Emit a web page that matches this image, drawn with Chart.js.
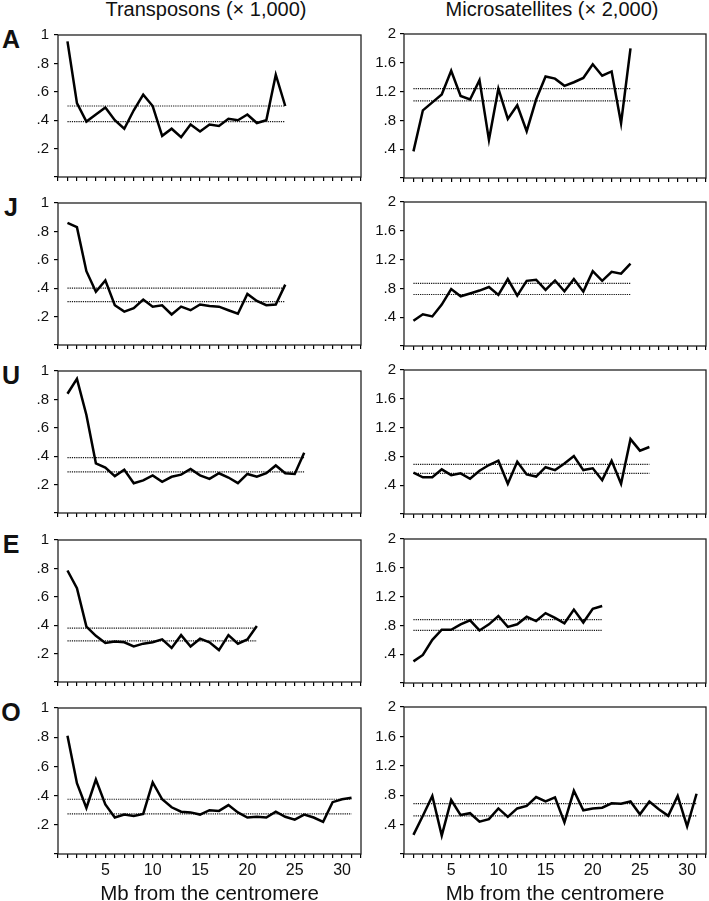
<!DOCTYPE html>
<html>
<head>
<meta charset="utf-8">
<script src="https://cdn.jsdelivr.net/npm/chart.js@4.4.0/dist/chart.umd.min.js"></script>
<style>
  body { margin: 0; background: #fff; width: 709px; height: 901px; overflow: hidden; position: relative;
         font-family: "Liberation Sans", Arial, sans-serif; color: #111; }
  .head { position: absolute; top: -2px; width: 300px; text-align: center; font-size: 20px; line-height: 22px; }
  .tag { position: absolute; left: 0; width: 22px; text-align: center; font-size: 25px; font-weight: bold; line-height: 26px; }
  .wrap { position: absolute; }
</style>
</head>
<body>
<div class="head" style="left:56px">Transposons (× 1,000)</div>
<div class="head" style="left:402px">Microsatellites (× 2,000)</div>

<script>
// chromosome panels, top to bottom
const chromosomes = ['A', 'J', 'U', 'E', 'O'];

// transposons per Mb (x 1,000), one value per Mb from the centromere
const transA = [0.955,0.52,0.39,0.44,0.49,0.40,0.34,0.47,0.58,0.50,0.29,0.34,0.28,0.37,0.32,0.37,0.36,0.41,0.40,0.44,0.38,0.40,0.72,0.50];
const transJ = [0.86,0.83,0.52,0.375,0.455,0.28,0.235,0.26,0.32,0.27,0.28,0.215,0.27,0.245,0.285,0.275,0.27,0.245,0.22,0.36,0.31,0.28,0.285,0.425];
const transU = [0.84,0.945,0.69,0.35,0.32,0.26,0.305,0.21,0.23,0.265,0.22,0.255,0.27,0.31,0.265,0.24,0.28,0.25,0.21,0.275,0.255,0.28,0.335,0.28,0.275,0.425];
const transE = [0.785,0.66,0.39,0.325,0.275,0.285,0.28,0.25,0.27,0.28,0.30,0.24,0.33,0.25,0.305,0.28,0.225,0.33,0.27,0.30,0.395];
const transO = [0.81,0.485,0.315,0.51,0.34,0.25,0.27,0.26,0.275,0.49,0.375,0.32,0.29,0.285,0.27,0.30,0.295,0.335,0.285,0.25,0.255,0.25,0.29,0.255,0.235,0.27,0.25,0.22,0.355,0.375,0.385];

// microsatellites per Mb (x 2,000)
const microA = [0.37,0.94,1.05,1.16,1.49,1.14,1.09,1.36,0.53,1.24,0.82,1.01,0.65,1.09,1.41,1.38,1.28,1.33,1.39,1.58,1.42,1.48,0.76,1.80];
const microJ = [0.35,0.44,0.41,0.575,0.79,0.69,0.73,0.77,0.82,0.71,0.93,0.70,0.905,0.92,0.78,0.91,0.76,0.93,0.755,1.04,0.905,1.03,1.005,1.145];
const microU = [0.575,0.51,0.51,0.62,0.54,0.565,0.49,0.60,0.68,0.74,0.42,0.725,0.55,0.52,0.65,0.61,0.70,0.805,0.61,0.635,0.47,0.74,0.42,1.04,0.88,0.93];
const microE = [0.30,0.39,0.60,0.74,0.74,0.815,0.87,0.73,0.815,0.93,0.78,0.815,0.92,0.86,0.97,0.905,0.83,1.02,0.84,1.03,1.07];
const microO = [0.26,0.52,0.79,0.25,0.735,0.53,0.555,0.44,0.475,0.62,0.505,0.62,0.655,0.775,0.715,0.77,0.43,0.86,0.595,0.62,0.63,0.69,0.685,0.715,0.54,0.715,0.61,0.52,0.79,0.375,0.82];

// the two dotted reference levels of each panel
const transLevels = [[0.50,0.39],[0.40,0.305],[0.39,0.29],[0.38,0.29],[0.375,0.275]];
const microLevels = [[1.24,1.07],[0.87,0.715],[0.69,0.565],[0.88,0.73],[0.685,0.52]];

const transSeries = [transA, transJ, transU, transE, transO];
const microSeries = [microA, microJ, microU, microE, microO];

const xMax = 32;
const xLabelStep = 5;
const xTitle = 'Mb from the centromere';

// layout
const panelTops = [33, 201, 369, 538, 706];
const plotH = 148;
const padTop = 12;
const fontFamily = '"Liberation Sans", Arial, sans-serif';

// box round the plot area
const frame = {
  id: 'frame',
  afterDraw(chart) {
    const a = chart.chartArea;
    const c = chart.ctx;
    c.save();
    c.strokeStyle = '#222';
    c.lineWidth = 1.3;
    c.strokeRect(a.left, a.top, a.right - a.left, a.bottom - a.top);
    c.restore();
  }
};

function yLabel(v) {
  const r = Math.round(v * 10) / 10;
  if (r === 0) return '';
  if (r < 1) return '.' + Math.round(r * 10);
  if (Number.isInteger(r)) return String(r);
  return r.toFixed(1);
}

function makePanel(col, row) {
  const bottomRow = row === chromosomes.length - 1;
  const values = col === 0 ? transSeries[row] : microSeries[row];
  const levels = col === 0 ? transLevels[row] : microLevels[row];
  const n = values.length;

  const axisH = bottomRow ? 53 : 10;
  const left = col === 0 ? 0 : 350;
  const width = col === 0 ? 364 : 359;
  const yWidth = col === 0 ? 58 : 54;
  const height = padTop + plotH + axisH;

  const wrap = document.createElement('div');
  wrap.className = 'wrap';
  wrap.style.left = left + 'px';
  wrap.style.top = (panelTops[row] - padTop) + 'px';
  const cv = document.createElement('canvas');
  cv.width = width;
  cv.height = height;
  wrap.appendChild(cv);
  document.body.appendChild(wrap);

  const datasets = [{
    data: values.map((v, i) => ({ x: i + 1, y: v })),
    borderColor: '#000',
    borderWidth: 2.5,
    pointRadius: 0,
    tension: 0
  }];
  levels.forEach(lv => {
    datasets.push({
      data: [{ x: 1, y: lv }, { x: n, y: lv }],
      borderColor: '#111',
      borderWidth: 1.2,
      borderDash: [1.2, 1],
      pointRadius: 0
    });
  });

  new Chart(cv, {
    type: 'line',
    data: { datasets: datasets },
    options: {
      responsive: false,
      animation: false,
      layout: { padding: { top: padTop, right: col === 0 ? 2 : 1, left: 0, bottom: 0 } },
      plugins: { legend: { display: false }, tooltip: { enabled: false } },
      scales: {
        x: {
          type: 'linear',
          min: 0,
          max: xMax,
          grid: { display: true, drawOnChartArea: false, drawTicks: true, tickLength: 4, color: '#000', lineWidth: 1.2 },
          border: { display: false },
          ticks: {
            stepSize: 1,
            autoSkip: false,
            maxRotation: 0,
            padding: 3,
            color: '#111',
            font: { family: fontFamily, size: 16 },
            callback: v => (bottomRow && v > 0 && v % xLabelStep === 0) ? String(v) : ''
          },
          title: {
            display: bottomRow,
            text: xTitle,
            color: '#111',
            padding: 0,
            font: { family: fontFamily, size: 20.5 }
          },
          afterFit: s => { s.height = axisH; }
        },
        y: {
          min: 0,
          max: col === 0 ? 1 : 2,
          grid: { display: true, drawOnChartArea: false, drawTicks: true, tickLength: 4, color: '#000', lineWidth: 1.2 },
          border: { display: false },
          ticks: {
            stepSize: col === 0 ? 0.2 : 0.4,
            padding: col === 0 ? 5 : 4,
            color: '#111',
            font: { family: fontFamily, size: 15 },
            callback: v => yLabel(v)
          },
          afterFit: s => { s.width = yWidth; }
        }
      }
    },
    plugins: [frame]
  });
}

chromosomes.forEach((name, row) => {
  const tag = document.createElement('div');
  tag.className = 'tag';
  tag.style.top = (panelTops[row] - 7) + 'px';
  tag.textContent = name;
  document.body.appendChild(tag);
  makePanel(0, row);
  makePanel(1, row);
});
</script>
</body>
</html>
